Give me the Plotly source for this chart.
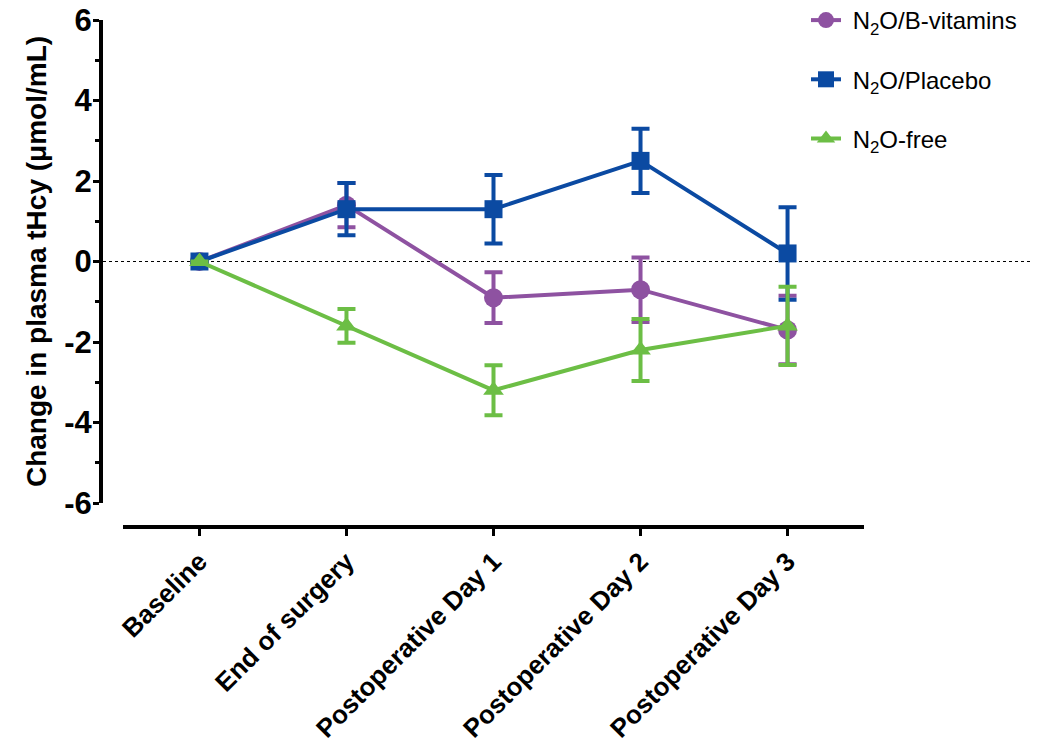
import plotly.graph_objects as go

categories = ["Baseline", "End of surgery", "Postoperative Day 1",
              "Postoperative Day 2", "Postoperative Day 3"]

b_vit = [0, 1.4, -0.9, -0.7, -1.7]
b_vit_err = [None, 0.55, 0.63, 0.8, 0.85]

placebo = [0, 1.3, 1.3, 2.5, 0.2]
placebo_err = [None, 0.65, 0.85, 0.8, 1.15]

n2o_free = [0, -1.6, -3.2, -2.2, -1.6]
n2o_free_err = [None, 0.42, 0.62, 0.77, 0.97]

y_ticks = [-6, -4, -2, 0, 2, 4, 6]
y_tick_labels = ["-6", "-4", "-2", "0", "2", "4", "6"]

PURPLE = "#8E52A1"
BLUE = "#0B4AA2"
GREEN = "#6CBE45"
FONT = "Liberation Sans, Arial, sans-serif"

W, H = 1050, 753
OFF = 8  # page body margin of the browser

def px_x(p):
    return (p - OFF) / W

def px_y(p):
    return 1 - (p - OFF) / H

fig = go.Figure()

series = [
    ("\u00a0N<sub>2</sub>O/B-vitamins", b_vit, b_vit_err, PURPLE, "circle", 19, "a"),
    ("\u00a0N<sub>2</sub>O/Placebo", placebo, placebo_err, BLUE, "square", 18, "b"),
    ("\u00a0N<sub>2</sub>O-free", n2o_free, n2o_free_err, GREEN, "triangle-up", 18, "c"),
]

for name, vals, errs, col, sym, size, grp in series:
    fig.add_trace(go.Scatter(
        x=categories, y=vals, name=name, mode="lines+markers",
        legendgroup=grp,
        line=dict(color=col, width=4),
        marker=dict(color=col, symbol=sym, size=size),
        error_y=dict(type="data", array=errs, visible=True,
                     color=col, thickness=4, width=9),
        cliponaxis=False,
    ))

fig.add_shape(type="line", xref="paper", yref="y",
              x0=px_x(103), x1=px_x(1030), y0=0, y1=0,
              line=dict(color="black", width=1, dash="dot"), layer="below")

fig.update_layout(
    width=W, height=H, autosize=False,
    margin=dict(l=0, r=0, t=0, b=0, autoexpand=False),
    paper_bgcolor="white", plot_bgcolor="white",
    font=dict(family=FONT, color="black"),
    showlegend=True,
    legend=dict(x=px_x(806), y=px_y(-2), xanchor="left", yanchor="top",
                font=dict(size=24, family=FONT, color="black"),
                tracegroupgap=25, itemwidth=30, bgcolor="rgba(0,0,0,0)"),
    xaxis=dict(
        domain=[px_x(123), px_x(864)],
        range=[-0.52, 4.52],
        anchor="free", position=px_y(527),
        automargin=False,
        showline=True, linecolor="black", linewidth=4,
        ticks="outside", ticklen=7, tickwidth=3, tickcolor="black",
        tickangle=-45, tickfont=dict(size=26, family=FONT, color="black", weight="bold"),
        ticklabeloverflow="allow",
        showgrid=False, zeroline=False,
    ),
    yaxis=dict(
        domain=[px_y(503), px_y(20)],
        range=[-6, 6],
        anchor="free", position=px_x(101),
        automargin=False,
        showline=True, linecolor="black", linewidth=4,
        tickvals=y_ticks, ticktext=y_tick_labels,
        ticks="outside", ticklen=6, tickwidth=3, tickcolor="black",
        ticklabelstandoff=-5,
        ticklabeloverflow="allow",
        minor=dict(dtick=1, ticks="outside", ticklen=4, tickwidth=3, tickcolor="black"),
        tickfont=dict(size=31, family=FONT, color="black", weight="bold"),
        title=dict(text="Change in plasma tHcy (μmol/mL)",
                   font=dict(size=28, family=FONT, color="black", weight="bold"),
                   standoff=8),
        showgrid=False, zeroline=False,
    ),
)

fig.write_html("out.html")
